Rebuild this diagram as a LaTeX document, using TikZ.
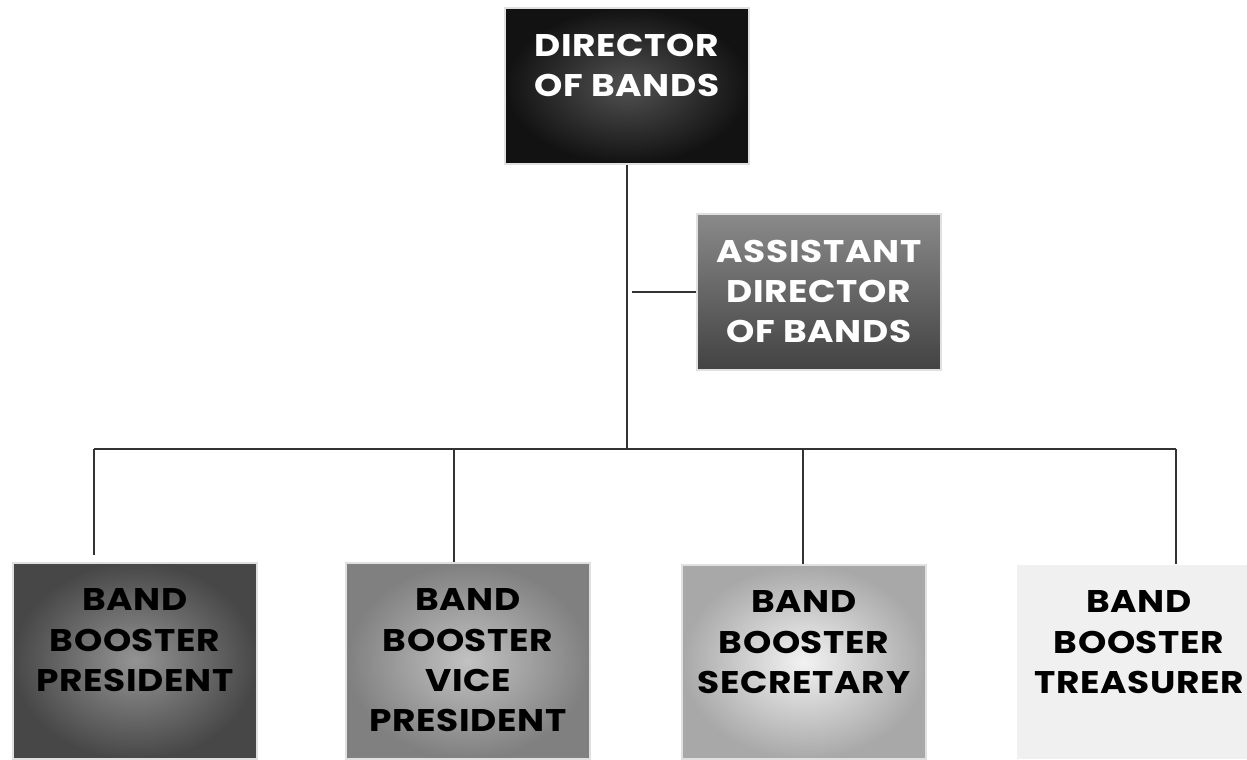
\documentclass[tikz,border=0pt]{standalone}
\usepackage{fontspec}
\newfontfamily\orgfont{Poppins}[FakeStretch=1.15, LetterSpace=2]
\usetikzlibrary{calc}

\newcommand{\roletext}[2]{\parbox[t][#1][t]{4.88cm}{\centering\vspace*{0.52cm}#2}}

\begin{document}
\begin{tikzpicture}[
    role/.style={inner sep=0pt, draw=black!12, line width=0.6pt,
        font=\orgfont\bfseries\fontsize{17.8}{22.8}\selectfont},
    link/.style={draw=black!80, line width=0.8pt}]
    \useasboundingbox (0,0) rectangle (24.94,15.18);
    \path (12.54,13.46) node[role, text=white, inner color=black!68,
        outer color=black!93](director){\roletext{3.12cm}{DIRECTOR\\OF BANDS}};
    \path (16.38,9.34) node[role, text=white, top color=black!46,
        bottom color=black!74](assistant){\roletext{3.12cm}{ASSISTANT\\DIRECTOR\\OF BANDS}};
    \path (2.70,1.96) node[role, inner color=black!42,
        outer color=black!72](president){\roletext{3.92cm}{BAND\\BOOSTER\\PRESIDENT}};
    \path (9.36,1.96) node[role, inner color=black!24,
        outer color=black!50](vicepres){\roletext{3.92cm}{BAND\\BOOSTER\\VICE\\PRESIDENT}};
    \path (16.08,1.94) node[role, inner color=black!5,
        outer color=black!34](secretary){\roletext{3.88cm}{BAND\\BOOSTER\\SECRETARY}};
    \path (22.78,1.94) node[role, fill=black!6,
        draw=none](treasurer){\roletext{3.88cm}{BAND\\BOOSTER\\TREASURER}};
    % connectors
    \coordinate (busL) at (1.88,6.20);
    \coordinate (busR) at (23.52,6.20);
    \coordinate (drop2) at (9.08,6.20);
    \coordinate (drop3) at (16.06,6.20);
    \coordinate (tap) at (12.64,9.34);
    \draw[link] (director.south) -- (director.south |- busL);
    \draw[link] (assistant.west) -- (tap);
    \draw[link] (busL) -- (busR);
    \draw[link] (busL) -- ($(busL |- president.north)+(0,0.14)$);
    \draw[link] (drop2) -- (drop2 |- vicepres.north);
    \draw[link] (drop3) -- (drop3 |- secretary.north);
    \draw[link] (busR) -- (busR |- treasurer.north);
\end{tikzpicture}
\end{document}
